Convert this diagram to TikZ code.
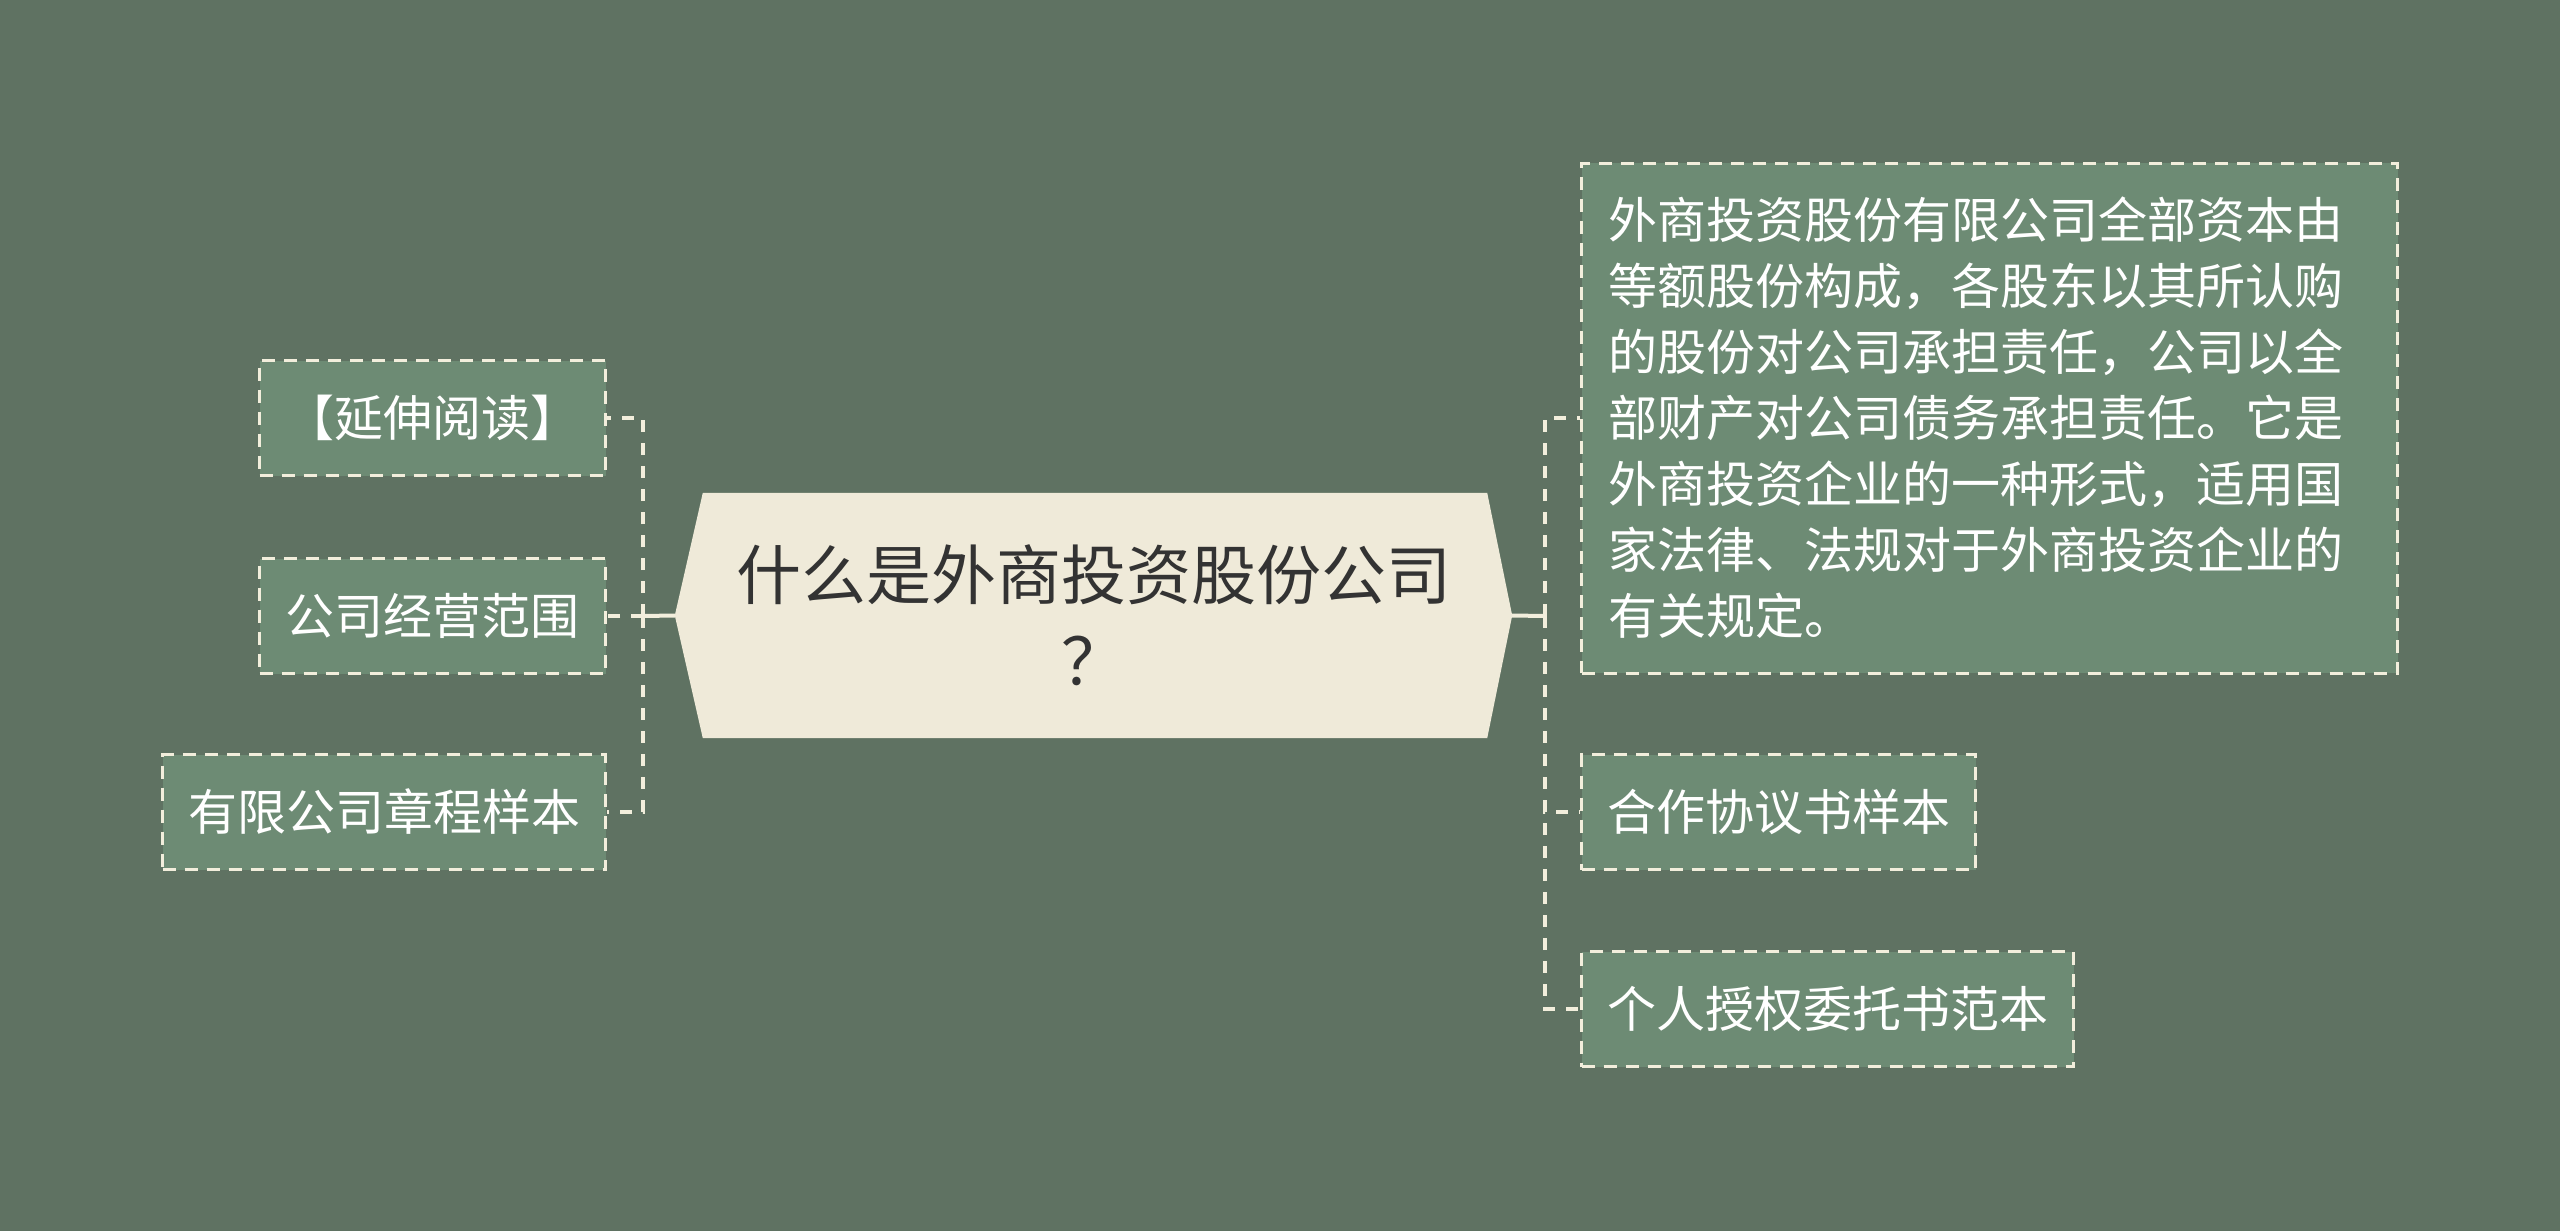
\documentclass[tikz,border=0pt]{standalone}
\usepackage{fontspec}
\newfontfamily\cjk{Noto Sans CJK SC}
\usetikzlibrary{backgrounds}
\definecolor{bgc}{HTML}{5F7262}
\definecolor{boxfill}{HTML}{6D8B74}
\definecolor{linec}{HTML}{F2EEDC}
\definecolor{hexfill}{HTML}{EFEAD9}
\definecolor{darktext}{HTML}{333333}
\begin{document}
\begin{tikzpicture}[x=1pt,y=-1pt,
  leaf/.style={draw=linec, fill=boxfill, line width=3pt, dash pattern=on 13pt off 9pt,
    minimum height=115pt, inner xsep=25pt, inner ysep=0pt,
    font=\cjk\fontsize{49}{66}\selectfont, text=white},
  conn/.style={draw=linec, line width=4pt, dash pattern=on 12pt off 11pt},
  trunk/.style={draw=linec, line width=4pt}]
\useasboundingbox (0,0) rectangle (2560,1231);

% central topic
\node[minimum width=837pt, minimum height=245pt, inner sep=0pt, align=center,
  font=\cjk\fontsize{65}{86}\selectfont, text=darktext] (c) at (1093.5,615.5)
  {什么是外商投资股份公司\\？};
\begin{scope}[on background layer]
\fill[bgc] (0,0) rectangle (2560,1231);
\fill[hexfill] (c.west) -- ([xshift=28pt]c.north west) -- ([xshift=-25pt]c.north east)
  -- (c.east) -- ([xshift=-25pt]c.south east) -- ([xshift=28pt]c.south west) -- cycle;
\end{scope}

% left children
\node[leaf, minimum width=346pt, anchor=east] (l1) at (607,418) {【延伸阅读】};
\node[leaf, minimum width=346pt, anchor=east] (l2) at (607,616) {公司经营范围};
\node[leaf, minimum width=443pt, anchor=east] (l3) at (607,812) {有限公司章程样本};

% right children
\node[leaf, anchor=west, text width=762pt, inner xsep=27pt, minimum height=510pt, align=left]
  (r1) at (1580,418)
  {外商投资股份有限公司全部资本由\\等额股份构成，各股东以其所认购\\的股份对公司承担责任，公司以全\\部财产对公司债务承担责任。它是\\外商投资企业的一种形式，适用国\\家法律、法规对于外商投资企业的\\有关规定。};
\node[leaf, minimum width=394pt, anchor=west] (r2) at (1580,812) {合作协议书样本};
\node[leaf, minimum width=492pt, anchor=west] (r3) at (1580,1009) {个人授权委托书范本};

% connectors
\coordinate (hl) at (643,616);
\coordinate (hr) at (1545,616);
\draw[trunk] (c.west) -- (hl);
\draw[trunk] (c.east) -- (hr);
\draw[conn] (hl) |- (l1.east);
\draw[conn] (hl) -- (l2.east);
\draw[conn] (hl) |- (l3.east);
\draw[conn] (hr) |- (r1.west);
\draw[conn] (hr) |- (r2.west);
\draw[conn] (hr) |- (r3.west);
\end{tikzpicture}
\end{document}
